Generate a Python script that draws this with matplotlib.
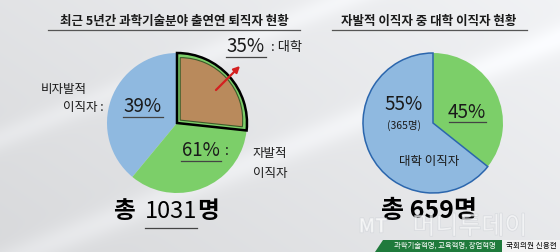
import numpy as np
import matplotlib
matplotlib.use("Agg")
import matplotlib.pyplot as plt
from matplotlib.patches import Wedge, Polygon, Rectangle
import matplotlib.patheffects as pe

plt.rcParams['font.family'] = ['Noto Sans CJK KR', 'DejaVu Sans']

# ---- data ----
left_title = "최근 5년간 과학기술분야 출연연 퇴직자 현황"
right_title = "자발적 이직자 중 대학 이직자 현황"

left_labels = ["비자발적\n이직자", "자발적\n이직자"]
left_pct = [39, 61]              # non-voluntary / voluntary
left_total = 1031
uni_pct = 35                      # share of voluntary leavers going to university
uni_drawn_share = 26.7            # angular share of the highlighted sector as drawn (% of circle)

right_pct = [55, 45]              # university / other
right_drawn_share = [64.3, 35.7]  # angular shares as drawn in the source
right_uni_count = 365
right_total = 659

BLUE = '#8fb9e0'
GREEN = '#7ccf69'
BROWN = '#b98a5c'
DARK = '#1a1a1a'

W, H = 560, 252


def Y(y_img):
    return H - y_img


fig = plt.figure(figsize=(W / 100, H / 100), dpi=100)
ax = fig.add_axes([0, 0, 1, 1])

# background gradient with soft diagonal streaks
xx, yy = np.meshgrid(np.linspace(0, 1, W), np.linspace(0, 1, H))
bg = 0.86 + 0.10 * (0.6 * xx + 0.4 * yy)
bg += 0.05 * np.exp(-((yy - 0.9 * xx + 0.05) / 0.06) ** 2)
bg += 0.04 * np.exp(-((yy - 0.9 * xx - 0.45) / 0.05) ** 2)
bg = np.clip(bg, 0, 1)
rgb = np.dstack([bg * 0.985, bg * 0.99, bg * 1.0])
ax.imshow(rgb, extent=[0, W, 0, H], origin='lower', zorder=0, aspect='auto')

# ---- left pie ----
lc, r = (177, Y(123)), 70
ax.pie(left_pct, colors=[BLUE, GREEN], startangle=90, counterclock=True,
       center=lc, radius=r, wedgeprops=dict(linewidth=0), frame=True)

# highlighted university sector (drawn over the voluntary slice)
t1 = 90 - 360 * uni_drawn_share / 100
ax.add_patch(Wedge(lc, r, t1, 90, facecolor=GREEN, edgecolor='black', lw=1.8, zorder=3))
d = 3.2
half = np.radians((90 - t1) / 2)
mid = np.radians((90 + t1) / 2)
s = d / np.sin(half)
ic = (lc[0] + s * np.cos(mid), lc[1] + s * np.sin(mid))
ax.add_patch(Wedge(ic, r - d - s, t1, 90, facecolor=BROWN, edgecolor='#3d5a2a', lw=0.8, zorder=4))
ax.annotate('', xy=(242, Y(64)), xytext=(214, Y(92)),
            arrowprops=dict(arrowstyle='-|>', color='#d42020', lw=1.6, mutation_scale=9), zorder=5)

# ---- right pie ----
rc = (433, Y(123))
wedges, _ = ax.pie(right_drawn_share, colors=[BLUE, GREEN], startangle=90, counterclock=True,
                   center=rc, radius=r, wedgeprops=dict(linewidth=0), frame=True)
wedges[0].set_edgecolor('#2b66ad')
wedges[0].set_linewidth(1.1)
wedges[0].set_zorder(3)

# ---- titles ----
for cx, txt, x0, x1 in [(174, left_title, 48, 300), (429, right_title, 332, 527)]:
    ax.text(cx, Y(21), txt, ha='center', va='center', fontsize=9, fontweight='bold', color=DARK)
    ax.plot([x0, x1], [Y(30), Y(30)], color='#555555', lw=0.9)

# ---- left labels ----
big = 13.5
ax.text(246, Y(47), f"{uni_pct}%", ha='center', va='center', fontsize=big, color=DARK)
ax.plot([226, 266], [Y(57), Y(57)], color='#444444', lw=0.9)
ax.text(271, Y(48), ": 대학", ha='left', va='center', fontsize=9.5, color=DARK)

ax.text(64, Y(89), left_labels[0].split("\n")[0], ha='center', va='center', fontsize=9, color=DARK)
ax.text(104, Y(108), left_labels[0].split("\n")[1] + " :", ha='right', va='center', fontsize=9, color=DARK)
ax.text(143, Y(107), f"{left_pct[0]}%", ha='center', va='center', fontsize=big, color=DARK)
ax.plot([123, 163], [Y(117), Y(117)], color='#444444', lw=0.9)

ax.text(201, Y(151), f"{left_pct[1]}%", ha='center', va='center', fontsize=big, color=DARK)
ax.text(227, Y(151), ":", ha='center', va='center', fontsize=10, color=DARK)
ax.plot([181, 221], [Y(161), Y(161)], color='#444444', lw=0.9)
ax.text(270, Y(153), left_labels[1].split("\n")[0], ha='center', va='center', fontsize=9, color=DARK)
ax.text(270, Y(173), left_labels[1].split("\n")[1], ha='center', va='center', fontsize=9, color=DARK)

ax.text(124, Y(211), "총", ha='center', va='center', fontsize=17, fontweight='bold', color='black')
ax.text(171, Y(211), f"{left_total}", ha='center', va='center', fontsize=17, color='black')
ax.text(208, Y(211), "명", ha='center', va='center', fontsize=17, fontweight='bold', color='black')
ax.plot([145, 197], [Y(228), Y(228)], color='#444444', lw=0.9)

# ---- right labels ----
ax.text(404, Y(104), f"{right_pct[0]}%", ha='center', va='center', fontsize=big, color=DARK, zorder=6)
ax.text(404, Y(125), f"({right_uni_count}명)", ha='center', va='center', fontsize=7.5, color=DARK, zorder=6)
ax.text(467, Y(113), f"{right_pct[1]}%", ha='center', va='center', fontsize=big, color=DARK, zorder=6)
ax.plot([449, 486], [Y(122), Y(122)], color='#444444', lw=0.9, zorder=6)
ax.text(429, Y(162), "대학 이직자", ha='center', va='center', fontsize=9, color=DARK, zorder=6)

ax.text(429, Y(211), f"총 {right_total}명", ha='center', va='center', fontsize=18,
        fontweight='bold', color='black')

# ---- watermark ----
wm = dict(color='white', alpha=0.45, zorder=7,
          path_effects=[pe.withStroke(linewidth=1.0, foreground='#c8ccd2')])
ax.text(373, Y(227), "MT", ha='center', va='center', fontsize=14, style='italic', fontweight='bold', **wm)
ax.text(470, Y(227), "머니투데이", ha='center', va='center', fontsize=18, **wm)

# ---- bottom banner ----
ax.add_patch(Polygon([(375, 0), (502, 0), (502, Y(240)), (383, Y(240))],
                     closed=True, facecolor='#1f7a3c', edgecolor='none', zorder=8))
ax.add_patch(Rectangle((502, 0), 58, H - 240, facecolor='#f2f2f2', edgecolor='none', zorder=8))
ax.text(445, Y(246), "과학기술혁명, 교육혁명, 창업혁명", ha='center', va='center',
        fontsize=5.3, color='white', zorder=9)
ax.text(531, Y(246), "국회의원 신용현", ha='center', va='center', fontsize=5.5, color='black', zorder=9)

ax.set_xlim(0, W)
ax.set_ylim(0, H)
ax.set_aspect('auto')
ax.axis('off')

fig.savefig("out.png", dpi=100)
